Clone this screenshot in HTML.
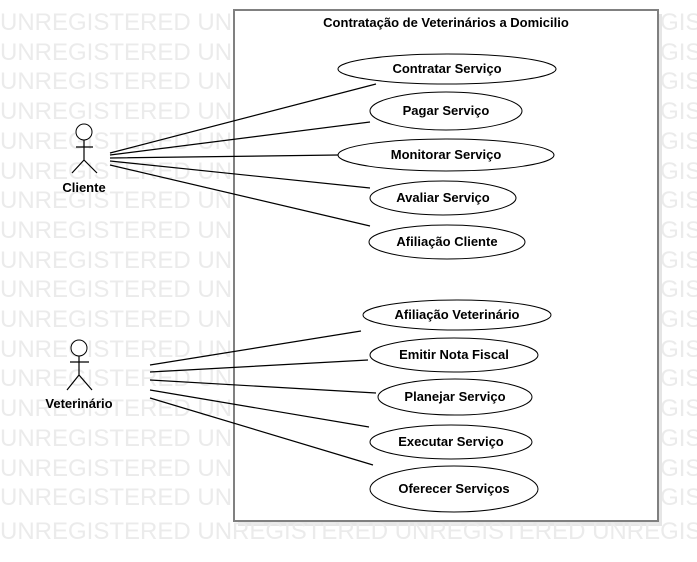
<!DOCTYPE html>
<html><head><meta charset="utf-8"><style>
html,body{margin:0;padding:0;background:#fff;width:697px;height:562px;overflow:hidden;font-family:"Liberation Sans",sans-serif;}
.wm{position:absolute;left:0;top:0;width:697px;height:520px;overflow:hidden;color:#ebebeb;font-size:24px;line-height:29.7px;white-space:pre;}
svg{position:absolute;left:0;top:0;overflow:hidden;}
</style></head><body>
<div class="wm" style="top:8px">UNREGISTERED UNREGISTERED UNREGISTERED UNREGISTERED
UNREGISTERED UNREGISTERED UNREGISTERED UNREGISTERED
UNREGISTERED UNREGISTERED UNREGISTERED UNREGISTERED
UNREGISTERED UNREGISTERED UNREGISTERED UNREGISTERED
UNREGISTERED UNREGISTERED UNREGISTERED UNREGISTERED
UNREGISTERED UNREGISTERED UNREGISTERED UNREGISTERED
UNREGISTERED UNREGISTERED UNREGISTERED UNREGISTERED
UNREGISTERED UNREGISTERED UNREGISTERED UNREGISTERED
UNREGISTERED UNREGISTERED UNREGISTERED UNREGISTERED
UNREGISTERED UNREGISTERED UNREGISTERED UNREGISTERED
UNREGISTERED UNREGISTERED UNREGISTERED UNREGISTERED
UNREGISTERED UNREGISTERED UNREGISTERED UNREGISTERED
UNREGISTERED UNREGISTERED UNREGISTERED UNREGISTERED
UNREGISTERED UNREGISTERED UNREGISTERED UNREGISTERED
UNREGISTERED UNREGISTERED UNREGISTERED UNREGISTERED
UNREGISTERED UNREGISTERED UNREGISTERED UNREGISTERED
UNREGISTERED UNREGISTERED UNREGISTERED UNREGISTERED</div>
<svg width="697" height="562" viewBox="0 0 697 562" font-family="Liberation Sans, sans-serif">
<rect x="238" y="14" width="424" height="512" fill="#e6e6e6"/>
<rect x="234" y="10" width="424" height="511" fill="#fff" stroke="#808080" stroke-width="2"/>
<text x="446" y="27" font-size="13" font-weight="bold" text-anchor="middle">Contratação de Veterinários a Domicilio</text>
<text x="0" y="539" font-size="24" fill="#ebebeb">UNREGISTERED UNREGISTERED UNREGISTERED UNREGISTERED</text>
<g fill="#fff" stroke="#000" stroke-width="1">
<circle cx="84" cy="132" r="8"/>
<circle cx="79" cy="348" r="8"/>
</g>
<g stroke="#000" stroke-width="1.2" fill="none">
<path d="M84 140V160M76 147H93M84 160L72 173M84 160L97 173"/>
<path d="M79 356V375M70 362H89M79 375L67 390M79 375L92 390"/>
<path d="M110 153L376 84M110 155L370 122M110 158L338 155M110 161L370 188M110 165L370 226"/>
<path d="M150 365L361 331M150 372L368 360M150 380L376 393M150 390L369 427M150 398L373 465"/>
</g>
<g fill="#fff" stroke="#000" stroke-width="1">
<ellipse cx="447" cy="69" rx="109" ry="15"/>
<ellipse cx="446" cy="111" rx="76" ry="19"/>
<ellipse cx="446" cy="155" rx="108" ry="16"/>
<ellipse cx="443" cy="198" rx="73" ry="17"/>
<ellipse cx="447" cy="242" rx="78" ry="17"/>
<ellipse cx="457" cy="315" rx="94" ry="15"/>
<ellipse cx="454" cy="355" rx="84" ry="17"/>
<ellipse cx="455" cy="397" rx="77" ry="18"/>
<ellipse cx="451" cy="442" rx="81" ry="17"/>
<ellipse cx="454" cy="489" rx="84" ry="23"/>
</g>
<g font-size="13" font-weight="bold" text-anchor="middle">
<text x="447" y="73">Contratar Serviço</text>
<text x="446" y="115">Pagar Serviço</text>
<text x="446" y="159">Monitorar Serviço</text>
<text x="443" y="202">Avaliar Serviço</text>
<text x="447" y="246">Afiliação Cliente</text>
<text x="457" y="319">Afiliação Veterinário</text>
<text x="454" y="359">Emitir Nota Fiscal</text>
<text x="455" y="401">Planejar Serviço</text>
<text x="451" y="446">Executar Serviço</text>
<text x="454" y="493">Oferecer Serviços</text>
<text x="84" y="192">Cliente</text>
<text x="79" y="408">Veterinário</text>
</g>
</svg>
</body></html>
